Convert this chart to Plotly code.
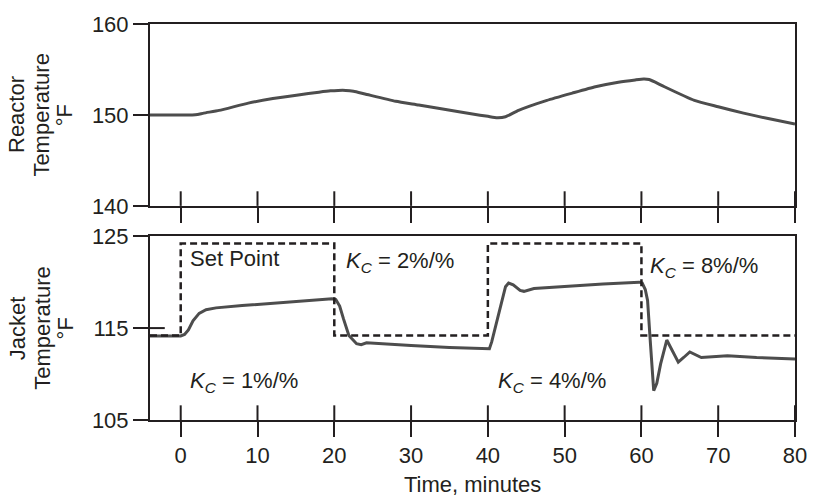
import plotly.graph_objects as go

# ---------------- data ----------------
time_reactor = [-4, 1.5, 2.2, 3, 5, 8.8, 12, 15.3, 18, 19.5, 20.5, 21.5, 22.5, 24, 28, 31, 34.5,
                38, 40, 41.2, 42.3, 44, 47.7, 51, 54, 57, 59.2, 60.3, 61, 61.8, 63, 66.9, 70, 73.3,
                76.5, 80]
reactor_temp = [150.0, 150.0, 150.05, 150.2, 150.5, 151.3, 151.8, 152.2, 152.5, 152.65, 152.7,
                152.7, 152.6, 152.3, 151.5, 151.1, 150.6, 150.1, 149.85, 149.7, 149.8, 150.5,
                151.6, 152.4, 153.1, 153.6, 153.85, 153.95, 153.9, 153.6, 153.1, 151.6, 150.9,
                150.2, 149.6, 149.0]

time_jacket = [-4, 0, 0.5, 1, 1.6, 2.4, 3.3, 4.6, 8, 11, 15, 19.7, 20.2, 20.7, 21.2, 21.9, 22.9,
               23.5, 24.2, 26, 30, 35, 40.2, 40.5, 41, 41.8, 42.3, 42.7, 43.3, 44.2, 44.7, 46,
               50, 55, 59.7, 60.1, 60.5, 60.8, 61.2, 61.6, 62, 62.5, 63.3, 64, 64.8, 65.5, 66.3,
               67.8, 71.2, 75, 80]
jacket_temp = [114.15, 114.15, 114.3, 114.8, 115.8, 116.6, 117.0, 117.2, 117.45, 117.65, 117.9,
               118.2, 118.1, 117.4, 116.0, 114.2, 113.3, 113.2, 113.4, 113.3, 113.1, 112.9,
               112.75, 113.5, 115.2, 118.1, 119.5, 119.9, 119.7, 119.1, 119.0, 119.3, 119.55,
               119.8, 120.0, 119.9, 119.2, 118.0, 113.0, 108.2, 109.0, 111.1, 113.7, 112.5,
               111.3, 111.8, 112.4, 111.8, 112.0, 111.8, 111.65]

time_setpoint = [-4, 0, 20, 40, 60, 80]
setpoint = [114.2, 124.2, 114.2, 124.2, 114.2, 114.2]

x_ticks = [0, 10, 20, 30, 40, 50, 60, 70, 80]
reactor_ticks = [140, 150, 160]
jacket_ticks = [105, 115, 125]

INK = "#231f20"
FONT = "Liberation Sans, Arial, sans-serif"
FS = 22

fig = go.Figure()
fig.add_trace(go.Scatter(x=time_reactor, y=reactor_temp, mode="lines",
                         line=dict(color="#4d4d4d", width=3, shape="spline", smoothing=0.5),
                         xaxis="x", yaxis="y", showlegend=False))
fig.add_trace(go.Scatter(x=time_jacket, y=jacket_temp, mode="lines",
                         line=dict(color="#4d4d4d", width=3), xaxis="x2", yaxis="y2",
                         showlegend=False))
fig.add_trace(go.Scatter(x=time_setpoint, y=setpoint, mode="lines", line_shape="hv",
                         line=dict(color=INK, width=2.5, dash="7px,4px"), xaxis="x2",
                         yaxis="y2", showlegend=False))

axis_common = dict(showgrid=False, zeroline=False, showline=True, linecolor=INK, linewidth=2,
                   mirror=True, ticks="outside", ticklen=15, tickwidth=2, tickcolor=INK,
                   tickfont=dict(family=FONT, size=FS, color=INK))

TOP_DOM = [0.5407, 1]
BOT_DOM = [0, 0.4642]
PLOT_W = 819 - 150 - 14

fig.update_layout(
    width=819, height=497,
    margin=dict(l=150, r=14, t=14, b=77),
    paper_bgcolor="white", plot_bgcolor="white",
    font=dict(family=FONT, size=FS, color=INK),
    xaxis=dict(axis_common, domain=[0, 1], anchor="y", range=[-4, 80], tickvals=x_ticks,
               showticklabels=False),
    yaxis=dict(axis_common, domain=TOP_DOM, anchor="x", range=[140, 160],
               tickvals=reactor_ticks),
    xaxis2=dict(axis_common, domain=[0, 1], anchor="y2", range=[-4, 80], tickvals=x_ticks),
    yaxis2=dict(axis_common, domain=BOT_DOM, anchor="x2", range=[105, 125],
                tickvals=jacket_ticks),
)

# inner halves of the crossing tick marks
shapes = []
for t in x_ticks:
    shapes.append(dict(type="line", xref="x", yref="y domain", x0=t, x1=t, y0=0, y1=15 / 187,
                       line=dict(color=INK, width=2)))
    shapes.append(dict(type="line", xref="x2", yref="y2 domain", x0=t, x1=t, y0=0, y1=15 / 188,
                       line=dict(color=INK, width=2)))
shapes.append(dict(type="line", xref="x2 domain", yref="y2", x0=0, x1=15 / PLOT_W, y0=115,
                   y1=115, line=dict(color=INK, width=2)))
fig.update_layout(shapes=shapes)

ann = []
def txt(x, y, s, xref="x2", yref="y2", **kw):
    d = dict(x=x, y=y, xref=xref, yref=yref, text=s, showarrow=False,
             font=dict(family=FONT, size=FS, color=INK), xanchor="left", yanchor="middle")
    d.update(kw)
    ann.append(d)

txt(1.0, 122.6, "Set Point")
txt(21.3, 122.2, "<i>K</i><sub><i>C</i></sub> = 2%/%")
txt(1.0, 109.1, "<i>K</i><sub><i>C</i></sub> = 1%/%")
txt(41.1, 109.1, "<i>K</i><sub><i>C</i></sub> = 4%/%")
txt(60.9, 121.6, "<i>K</i><sub><i>C</i></sub> = 8%/%")

# y-axis titles, one rotated line each
title_cols_px = [15, 40, 64]
for lines, dom in ((["Reactor", "Temperature", "°F"], TOP_DOM),
                   (["Jacket", "Temperature", "°F"], BOT_DOM)):
    for line, px in zip(lines, title_cols_px):
        txt((px - 150) / PLOT_W, 0.5 * (dom[0] + dom[1]), line, xref="paper", yref="paper",
            xanchor="center", textangle=-90)

txt(0.5, -0.162, "Time, minutes", xref="paper", yref="paper", xanchor="center")
fig.update_layout(annotations=ann)

fig.write_html("out.html")
